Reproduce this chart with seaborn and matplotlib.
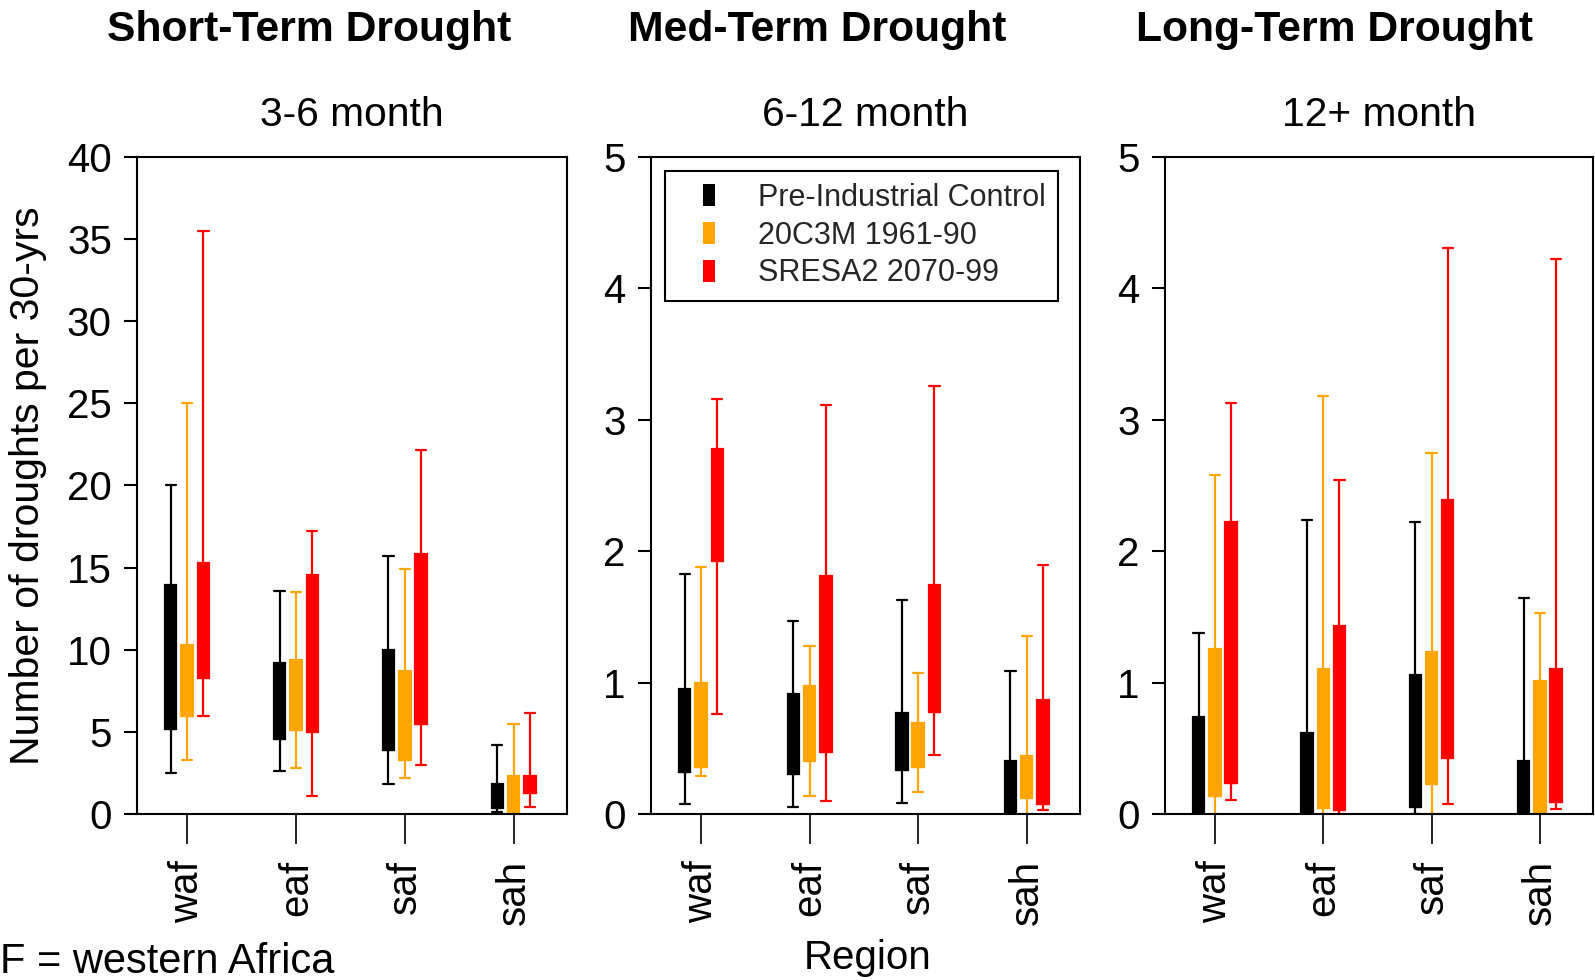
import numpy as np
import pandas as pd
import matplotlib
matplotlib.use("Agg")
import matplotlib.pyplot as plt
import seaborn as sns
from matplotlib.lines import Line2D

# ---------------- data ----------------
regions = ["waf", "eaf", "saf", "sah"]
series = ["Pre-Industrial Control", "20C3M 1961-90", "SRESA2 2070-99"]
colors = ["#000000", "#FFA500", "#FF0000"]
panel_titles = ["Short-Term Drought", "Med-Term Drought", "Long-Term Drought"]
panel_subtitles = ["3-6 month", "6-12 month", "12+ month"]
y_max = [40, 5, 5]
y_ticks = [[0, 5, 10, 15, 20, 25, 30, 35, 40], [0, 1, 2, 3, 4, 5], [0, 1, 2, 3, 4, 5]]

# each entry: [lower whisker, Q1, Q3, upper whisker] for waf, eaf, saf, sah
short_pi = [[2.5, 5.15, 13.95, 20.0], [2.6, 4.57, 9.17, 13.6], [1.8, 3.9, 10.0, 15.7], [0.1, 0.34, 1.85, 4.2]]
short_20c = [[3.3, 5.95, 10.3, 25.0], [2.8, 5.1, 9.4, 13.5], [2.2, 3.3, 8.7, 14.9], [0.05, 0.13, 2.3, 5.5]]
short_a2 = [[5.95, 8.27, 15.3, 35.5], [1.1, 5.0, 14.57, 17.2], [3.0, 5.5, 15.8, 22.15], [0.45, 1.27, 2.3, 6.16]]

med_pi = [[0.076, 0.317, 0.955, 1.83], [0.053, 0.307, 0.912, 1.47], [0.086, 0.337, 0.77, 1.63], [0.0, 0.0, 0.40, 1.087]]
med_20c = [[0.29, 0.357, 0.998, 1.877], [0.139, 0.406, 0.972, 1.276], [0.169, 0.357, 0.69, 1.07], [0.0, 0.122, 0.443, 1.358]]
med_a2 = [[0.763, 1.927, 2.776, 3.156], [0.10, 0.469, 1.81, 3.11], [0.449, 0.78, 1.745, 3.26], [0.033, 0.076, 0.866, 1.897]]

long_pi = [[0.0, 0.0, 0.74, 1.378], [0.0, 0.0, 0.62, 2.24], [0.0, 0.053, 1.057, 2.224], [0.0, 0.0, 0.40, 1.646]]
long_20c = [[0.0, 0.135, 1.252, 2.578], [0.0, 0.043, 1.104, 3.18], [0.0, 0.225, 1.23, 2.75], [0.0, 0.0, 1.015, 1.533]]
long_a2 = [[0.109, 0.238, 2.22, 3.126], [0.0, 0.033, 1.428, 2.54], [0.073, 0.423, 2.386, 4.31], [0.04, 0.09, 1.104, 4.22]]

panels = [
    [short_pi, short_20c, short_a2],
    [med_pi, med_20c, med_a2],
    [long_pi, long_20c, long_a2],
]

# build long-form table: 5 values per box so that seaborn's quartiles equal Q1/Q3
rows = []
for p, panel in enumerate(panels):
    for s_name, stats in zip(series, panel):
        for r_name, (lo, q1, q3, hi) in zip(regions, stats):
            for v in (lo, q1, q1, q3, hi):
                rows.append({"panel": p, "series": s_name, "region": r_name, "value": v})
df = pd.DataFrame(rows)

# ---------------- style ----------------
sns.set_theme(style="ticks")
plt.rcParams["font.family"] = ["Liberation Sans", "DejaVu Sans"]
plt.rcParams["axes.edgecolor"] = "black"
plt.rcParams["axes.linewidth"] = 1.5

W, H = 1595, 980
fig = plt.figure(figsize=(W / 100, H / 100), dpi=100)
fig.patch.set_facecolor("white")

ax_px = [(137, 567), (651, 1080), (1165, 1593)]
top_px, bot_px = 157, 814
axes = []
for (l, r) in ax_px:
    ax = fig.add_axes([l / W, 1 - bot_px / H, (r - l) / W, (bot_px - top_px) / H])
    axes.append(ax)

palette = dict(zip(series, colors))
for p, ax in enumerate(axes):
    sub = df[df["panel"] == p]
    for s_name, c in zip(series, colors):
        sns.boxplot(
            data=sub[sub["series"] == s_name], x="region", y="value", hue="series",
            order=regions, hue_order=series, palette=palette, linecolor=c,
            width=0.45, gap=0.3, whis=(0, 100), linewidth=1.6, fliersize=0,
            dodge=True, legend=False, saturation=1, capwidths=0.095, ax=ax,
        )
    ax.set_xlim(-0.46, 3.49)
    ax.set_ylim(0, y_max[p])
    ax.set_yticks(y_ticks[p])
    ax.set_yticklabels([str(t) for t in y_ticks[p]])
    ax.set_xlabel("")
    ax.set_ylabel("")
    for sp in ax.spines.values():
        sp.set_visible(True)
        sp.set_color("black")
        sp.set_linewidth(1.5)
    ax.tick_params(axis="y", length=9.5, width=1.5, pad=8.6, labelsize=29, colors="black")
    ax.tick_params(axis="x", length=21.6, width=1.2, pad=11.5, labelsize=29,
                   labelrotation=90, colors="black")
    ax.set_facecolor("white")

# legend
rect = [(-0.25, -0.5), (0.25, -0.5), (0.25, 0.5), (-0.25, 0.5), (-0.25, -0.5)]
handles = [Line2D([], [], linestyle="none", marker=rect, markersize=16,
                  markerfacecolor=c, markeredgewidth=0, color=c) for c in colors]
leg = axes[1].legend(handles, series, loc="upper left", bbox_to_anchor=(0.033, 0.979),
                     borderaxespad=0, frameon=True, fancybox=False, edgecolor="black",
                     framealpha=1, fontsize=22, handlelength=2.1, handletextpad=0.55,
                     labelspacing=0.25, borderpad=0.4)
leg.get_frame().set_linewidth(1.5)

# titles
title_x = [309, 817, 1334]
for tx, t in zip(title_x, panel_titles):
    fig.text(tx / W, 1 - 29.5 / H, t, ha="center", va="center", fontsize=30.7,
             fontweight="bold", color="black")
for (l, r), t in zip(ax_px, panel_subtitles):
    fig.text((l + r) / 2 / W, 1 - 115 / H, t, ha="center", va="center", fontsize=29.3,
             color="black")

fig.text(28.5 / W, 1 - (top_px + bot_px) / 2 / H, "Number of droughts per 30-yrs",
         rotation=90, ha="center", va="center", fontsize=29.5, color="black")
fig.text(868 / W, 1 - 958 / H, "Region", ha="center", va="center", fontsize=29, color="black")
fig.text(0 / W, 1 - 962 / H, "F = western Africa", ha="left", va="center",
         fontsize=30, color="black")

fig.savefig("out.png", dpi=100, facecolor="white")
